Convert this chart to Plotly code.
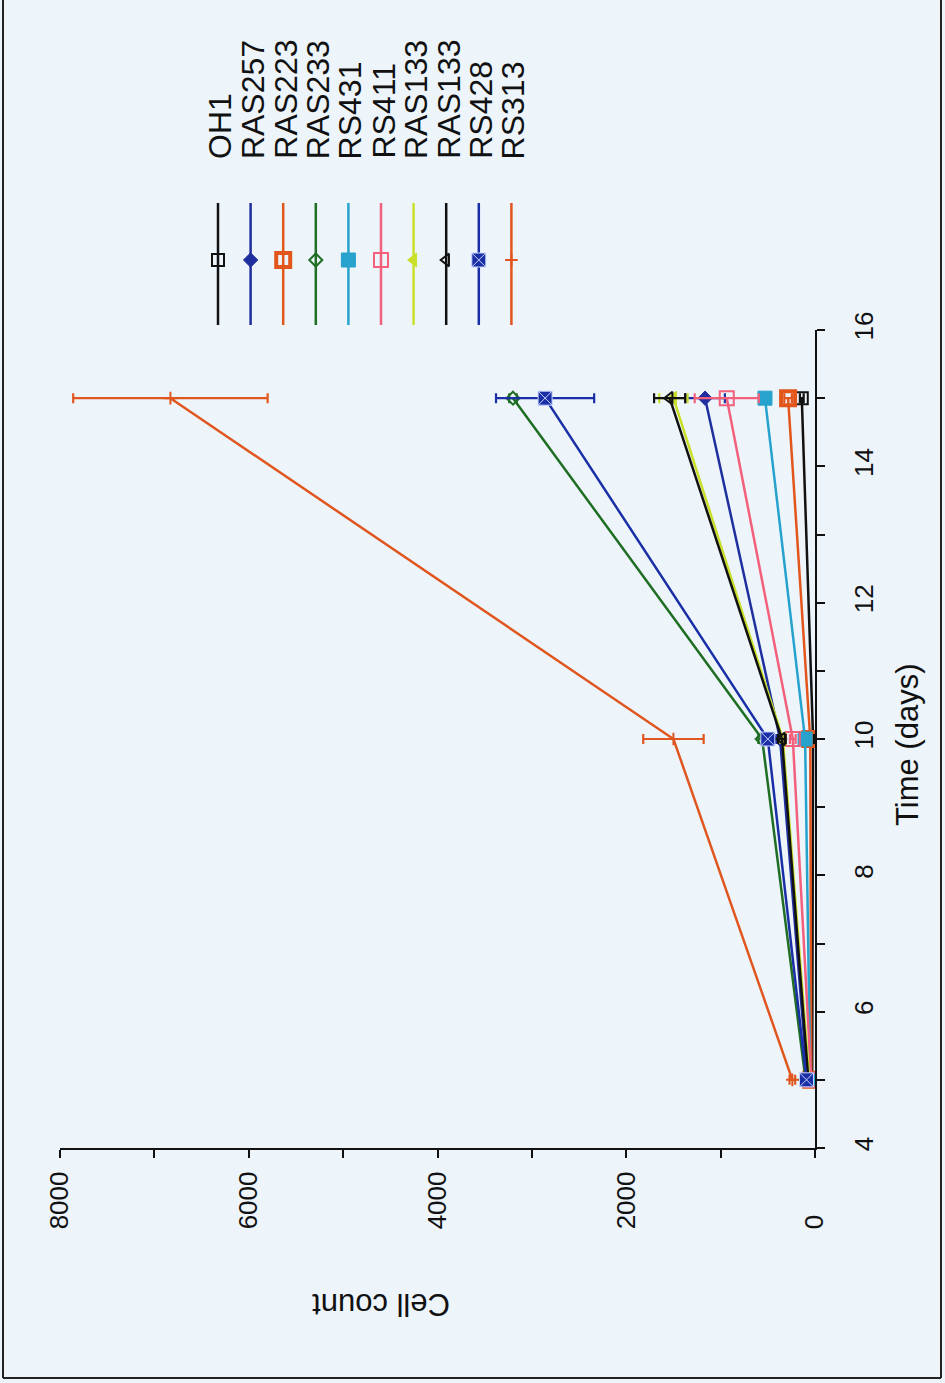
import plotly.graph_objects as go

# ---------------- data ----------------
days = [5, 10, 15]
series_names = ["OH1", "RAS257", "RAS223", "RAS233", "RS431", "RS411",
                "RAS133", "RAS133", "RS428", "RS313"]
OH1 = [30, 20, 140]
RAS257 = [80, 370, 1165]
RAS223 = [40, 50, 285]
RAS233 = [100, 560, 3200]
RS431 = [50, 105, 530]
RS411 = [40, 235, 935]
RAS133_a = [60, 340, 1500]
RAS133_b = [70, 350, 1540]
RS428 = [90, 500, 2860]
RS313 = [240, 1500, 6830]

OH1_err = [10, 10, 20]
RAS257_err = [15, 40, 210]
RAS223_err = [10, 15, 40]
RAS233_err = [15, 40, 40]
RS431_err = [10, 15, 30]
RS411_err = [10, 30, 340]
RAS133_a_err = [10, 30, 150]
RAS133_b_err = [10, 40, 165]
RS428_err = [20, 60, 520]
RS313_err = [30, 320, 1030]

count_ticks = [0, 2000, 4000, 6000, 8000]
count_ticktext = ["0\u2007\u2007\u2007", "2000", "4000", "6000", "8000"]
day_ticks = [4, 6, 8, 10, 12, 14, 16]

values = [OH1, RAS257, RAS223, RAS233, RS431, RS411, RAS133_a, RAS133_b, RS428, RS313]
errors = [OH1_err, RAS257_err, RAS223_err, RAS233_err, RS431_err, RS411_err,
          RAS133_a_err, RAS133_b_err, RS428_err, RS313_err]

# ---------------- styles ----------------
colors = ["#111111", "#1f2f9e", "#e2561c", "#1f6e24", "#27a2cc", "#f2607c",
          "#c9df2a", "#111111", "#1a2fa6", "#e0561e"]
symbols = ["square-open", "diamond", "square-open", "diamond-open", "square",
           "square-open", "triangle-left", "triangle-left-open", "square-x",
           "cross-thin-open"]
msizes = [12, 11, 14, 10, 14, 14, 12, 11, 14, 9]
mline_w = [2, 1, 4, 2, 1, 2, 1, 2, 1, 2]
mline_c = [colors[0], colors[1], colors[2], colors[3], colors[4], colors[5],
           colors[6], colors[7], "#c8d4ff", colors[9]]

W, H = 945, 1383
BG = "#edf5fb"
FONT = "Liberation Sans, Arial, sans-serif"

# plot area in pixels
PX0, PX1, PY0, PY1 = 60, 815, 330, 1148


def fx(px):
    return px / W


def fy(py):
    return 1 - py / H


fig = go.Figure()

for i, name in enumerate(series_names):
    fig.add_trace(go.Scatter(
        x=values[i], y=days, mode="lines+markers", name=name,
        line=dict(color=colors[i], width=2.5),
        marker=dict(symbol=symbols[i], size=msizes[i], color=colors[i],
                    line=dict(color=mline_c[i], width=mline_w[i])),
        error_x=dict(type="data", array=errors[i], visible=True,
                     color=colors[i], thickness=2.2, width=5),
        showlegend=False, xaxis="x", yaxis="y",
    ))

# ---------------- manual rotated legend ----------------
leg_x0, leg_dx = 218, 32.6
for i, name in enumerate(series_names):
    lx = leg_x0 + i * leg_dx
    fig.add_trace(go.Scatter(
        x=[lx, lx, lx], y=[203, 260, 325], mode="lines",
        line=dict(color=colors[i], width=2.5), showlegend=False,
        xaxis="x2", yaxis="y2", hoverinfo="skip"))
    fig.add_trace(go.Scatter(
        x=[lx], y=[260], mode="markers",
        marker=dict(symbol=symbols[i], size=msizes[i], color=colors[i],
                    line=dict(color=mline_c[i], width=mline_w[i])),
        showlegend=False, xaxis="x2", yaxis="y2", hoverinfo="skip"))
    fig.add_annotation(
        text=name, x=fx(lx + 2), y=fy(161), xref="paper", yref="paper",
        xanchor="center", yanchor="bottom", textangle=-90, showarrow=False,
        font=dict(family=FONT, size=32, color="#111111"))

# axis titles
fig.add_annotation(text="Time (days)", x=fx(907), y=fy(745), xref="paper", yref="paper",
                   xanchor="center", yanchor="middle", textangle=-90, showarrow=False,
                   font=dict(family=FONT, size=31, color="#111111"))
fig.add_annotation(text="Cell count", x=fx(381), y=fy(1305), xref="paper", yref="paper",
                   xanchor="center", yanchor="middle", textangle=180, showarrow=False,
                   font=dict(family=FONT, size=31, color="#111111"))

# frame
for (x0, y0, x1, y1) in [(3, 0, 3, 1378), (3, 1378, 941, 1378), (941, 0, 941, 1378)]:
    fig.add_shape(type="line", x0=fx(x0), y0=fy(y0), x1=fx(x1), y1=fy(y1),
                  xref="paper", yref="paper", line=dict(color="#222222", width=2))

fig.update_layout(
    template="none",
    width=W, height=H, paper_bgcolor=BG, plot_bgcolor="rgba(0,0,0,0)",
    margin=dict(l=0, r=0, t=0, b=0, pad=0, autoexpand=False), showlegend=False,
    font=dict(family=FONT, color="#111111"),
    xaxis=dict(domain=[fx(PX0), fx(PX1)], range=[8000, 0], anchor="y",
               automargin=False,
               tickvals=count_ticks, ticktext=count_ticktext, tickangle=-90,
               ticks="outside", ticklen=8, tickwidth=2, tickcolor="#111111",
               minor=dict(dtick=1000, tick0=0, ticks="outside", ticklen=8,
                          tickwidth=2, tickcolor="#111111", showgrid=False),
               showline=True, linecolor="#111111", linewidth=2.2,
               showgrid=False, zeroline=False, ticklabelstandoff=3,
               tickfont=dict(family=FONT, size=26, color="#111111")),
    yaxis=dict(domain=[fy(PY1), fy(PY0)], range=[4, 16], anchor="x", side="right",
               automargin=False,
               tickvals=day_ticks, tickangle=-90,
               ticks="outside", ticklen=8, tickwidth=2, tickcolor="#111111",
               minor=dict(dtick=1, tick0=4, ticks="outside", ticklen=8,
                          tickwidth=2, tickcolor="#111111", showgrid=False),
               showline=True, linecolor="#111111", linewidth=2.2,
               showgrid=False, zeroline=False, ticklabelstandoff=17,
               tickfont=dict(family=FONT, size=26, color="#111111")),
    xaxis2=dict(domain=[0, 1], range=[0, W], anchor="y2", visible=False,
                automargin=False, showgrid=False, zeroline=False),
    yaxis2=dict(domain=[0, 1], range=[H, 0], anchor="x2", visible=False,
                automargin=False, showgrid=False, zeroline=False),
)

fig.write_html(
    "out.html",
    config={"displayModeBar": False},
    post_script="document.body.style.margin='0';document.body.style.padding='0';"
                "document.body.style.overflow='hidden';"
                "document.body.style.background='" + BG + "';",
)
